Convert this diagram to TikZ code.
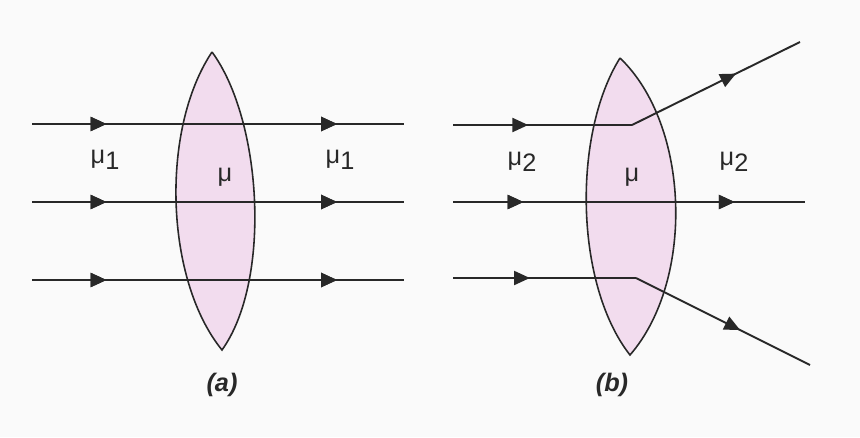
\documentclass[tikz,border=0pt]{standalone}
\usepackage{fontspec}
\setmainfont{Liberation Sans}
\usetikzlibrary{decorations.markings,arrows.meta}
\definecolor{lens}{RGB}{242,220,238}
\definecolor{ink}{RGB}{40,40,40}
\definecolor{bg}{RGB}{250,250,250}
\newcommand{\sbx}[1]{\raisebox{-0.45ex}{#1}}
\begin{document}
\begin{tikzpicture}[x=0.02cm,y=-0.02cm,
  ray/.style={draw=ink,line width=1.1pt},
  arr/.style={postaction={decorate},decoration={markings,mark=at position #1 with {\arrow{Triangle[length=9pt,width=8pt]}}}},
  lab/.style={font=\Large,text=ink},
  caplab/.style={font=\Large\bfseries\itshape,text=ink}]
\fill[bg] (0,0) rectangle (860,437);
% lens a
\filldraw[fill=lens,draw=ink,line width=0.9pt] (212,52) .. controls (160,130) and (165,280) .. (222,350) .. controls (272,280) and (262,120) .. (212,52);
% lens b
\filldraw[fill=lens,draw=ink,line width=0.9pt] (620,58) .. controls (572,135) and (575,285) .. (630,355) .. controls (695,280) and (690,125) .. (620,58);
% rays a
\foreach \y in {124,202,280}{
  \coordinate (s\y) at (32,\y); \coordinate (e\y) at (404,\y);
  \draw[ray,arr=0.2,arr=0.82] (s\y) -- (e\y);}
% rays b
\coordinate (b1s) at (453,125); \coordinate (b1k) at (632,125); \coordinate (b1e) at (800,42);
\coordinate (b2s) at (453,202); \coordinate (b2e) at (805,202);
\coordinate (b3s) at (453,278); \coordinate (b3k) at (636,278); \coordinate (b3e) at (810,365);
\draw[ray,arr=0.42] (b1s) -- (b1k);
\draw[ray,arr=0.62] (b1k) -- (b1e);
\draw[ray,arr=0.2,arr=0.8] (b2s) -- (b2e);
\draw[ray,arr=0.42] (b3s) -- (b3k);
\draw[ray,arr=0.6] (b3k) -- (b3e);
% labels
\node[lab] (m1) at (105,160) {μ\sbx{1}};
\node[lab] (m) at (225,177) {μ};
\node[lab] (m1r) at (340,160) {μ\sbx{1}};
\node[lab] (m2) at (522,162) {μ\sbx{2}};
\node[lab] (mb) at (632,177) {μ};
\node[lab] (m2r) at (734,162) {μ\sbx{2}};
\node[caplab] (ca) at (222,385) {(a)};
\node[caplab] (cb) at (612,385) {(b)};
\end{tikzpicture}
\end{document}
